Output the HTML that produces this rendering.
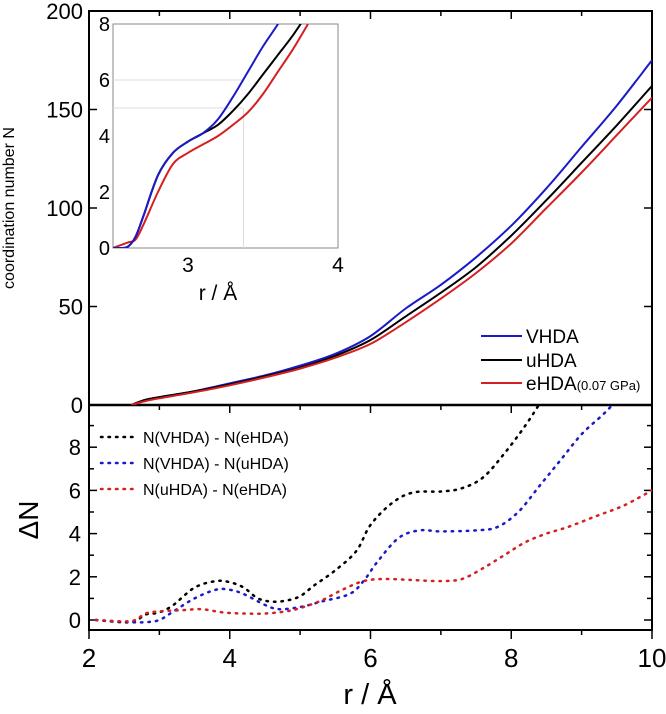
<!DOCTYPE html>
<html><head><meta charset="utf-8"><style>
body{margin:0;background:#fff}
svg{display:block;font-family:"Liberation Sans",sans-serif}
</style></head><body>
<svg id="c" width="666" height="714" xmlns="http://www.w3.org/2000/svg"></svg>
<script>
const rMain=[2.6,2.8,3.0,3.5,4.0,4.5,5.0,5.5,6.0,6.5,7.0,7.5,8.0,8.5,9.0,9.5,10];
const nVHDA=[0,2.6,4,7,11,15,20,26,35,49,61,75,91,110,131,152,175];
const nUHDA=[0,2.6,4,7,10.5,14.5,19,25,33,45,57,70,86,104,123,142,162];
const nEHDA=[0,2,3.4,6.5,10,14,18.5,24,31,42,54,67,82,100,118,137,156];
const rIn=[2.5,2.55,2.6,2.65,2.7,2.8,2.9,3.0,3.1,3.2,3.3,3.4,3.5,3.6,3.7,3.8];
const inV=[0,0,0.05,0.4,1.1,2.6,3.4,3.8,4.1,4.6,5.4,6.3,7.2,8.0,8.9,9.8];
const inU=[0,0,0.05,0.4,1.1,2.6,3.4,3.8,4.1,4.4,4.9,5.5,6.2,6.9,7.6,8.4];
const inE=[0,0.1,0.2,0.3,0.8,2.0,3.0,3.4,3.7,4.0,4.4,4.85,5.5,6.3,7.1,8.0];
const rVE=[2.1,2.6,2.8,3.0,3.2,3.5,3.8,4.0,4.2,4.4,4.6,4.8,5.0,5.2,5.5,5.8,6.0,6.3,6.6,7.0,7.3,7.6,7.9,8.2,8.4];
const dVE=[0,-0.1,0.25,0.35,0.7,1.5,1.8,1.75,1.5,1.0,0.85,0.9,1.1,1.6,2.3,3.2,4.4,5.4,5.9,5.95,6.1,6.6,7.7,9.0,10];
const rVU=[2.1,2.6,2.8,3.0,3.2,3.5,3.8,4.0,4.2,4.5,4.7,5.0,5.3,5.7,5.9,6.1,6.4,6.7,7.0,7.5,7.8,8.1,8.4,8.7,9.0,9.3,9.45];
const dVU=[0,-0.1,-0.1,0,0.4,1.0,1.4,1.4,1.2,0.7,0.5,0.6,0.85,1.2,1.8,2.7,3.8,4.15,4.1,4.15,4.3,5.0,6.2,7.4,8.6,9.5,10];
const rUE=[2.1,2.6,2.8,3.0,3.3,3.6,3.9,4.2,4.5,4.8,5.0,5.3,5.6,5.9,6.2,6.6,7.0,7.3,7.6,7.9,8.2,8.5,8.8,9.2,9.6,10];
const dUE=[0,-0.05,0.3,0.4,0.45,0.5,0.35,0.3,0.3,0.4,0.55,0.9,1.4,1.8,1.9,1.85,1.8,1.9,2.4,3.0,3.6,4.0,4.3,4.8,5.3,6.0];
const xTicks=[2,4,6,8,10];
const yTopTicks=[0,50,100,150,200];
const yBotTicks=[0,2,4,6,8];
const inXTicks=[3,4];
const inYTicks=[0,2,4,6,8];

const L=89,R=652,T=11,M=405,B=630;
const X=r=>L+(r-2)/8*(R-L);
const YT=v=>M-v/200*(M-T);
const YB=v=>620-v*21.6;
const IL=113,IR=338,IT=24,IB=248;
const IX=r=>IL+(r-2.5)/1.5*(IR-IL);
const IY=v=>IB-v/8*(IB-IT);
const svg=document.getElementById('c');
const NS='http://www.w3.org/2000/svg';
function mk(tag,at,name,txt){const e=document.createElementNS(NS,tag);for(const k in at)e.setAttribute(k,at[k]);


if(txt!==undefined)e.textContent=txt;svg.appendChild(e);return e;}
function line(x1,y1,x2,y2,name,st,w){return mk('line',{x1,y1,x2,y2,stroke:st||'#000','stroke-width':w||1.5},name);}
function smooth(p){let d='M'+p[0][0].toFixed(1)+','+p[0][1].toFixed(1);
for(let i=0;i<p.length-1;i++){const p0=p[Math.max(i-1,0)],p1=p[i],p2=p[i+1],p3=p[Math.min(i+2,p.length-1)];
const c1=[p1[0]+(p2[0]-p0[0])/6,p1[1]+(p2[1]-p0[1])/6],c2=[p2[0]-(p3[0]-p1[0])/6,p2[1]-(p3[1]-p1[1])/6];
d+='C'+c1.map(v=>v.toFixed(1))+' '+c2.map(v=>v.toFixed(1))+' '+p2[0].toFixed(1)+','+p2[1].toFixed(1);}return d;}
function path(xs,ys,fx,fy,col,name,dash){const d=smooth(xs.map((x,i)=>[fx(x),fy(ys[i])]));
const a={d,fill:'none',stroke:col,'stroke-width':dash?2.5:2};if(dash){a['stroke-dasharray']='1.5 6';a['stroke-linecap']='round';}return mk('path',a,name);}

const defs=document.createElementNS(NS,'defs');
defs.innerHTML='<clipPath id="ct"><rect x="'+L+'" y="'+T+'" width="'+(R-L)+'" height="'+(M-T)+'"/></clipPath><clipPath id="cb"><rect x="'+L+'" y="'+M+'" width="'+(R-L)+'" height="'+(B-M)+'"/></clipPath><clipPath id="ci"><rect x="'+IL+'" y="'+IT+'" width="'+(IR-IL)+'" height="'+(IB-IT)+'"/></clipPath>';
svg.appendChild(defs);

mk('rect',{x:L,y:T,width:R-L,height:B-T,fill:'none',stroke:'#000','stroke-width':2},'plot-frame');
line(L,M,R,M,'panel-divider','#000',2.5);
xTicks.forEach(v=>{line(X(v),B,X(v),B+9,'x-tick');line(X(v),T,X(v),T+8,'top-tick');line(X(v),M,X(v),M+8,'mid-tick');
mk('text',{x:X(v),y:B+37,'font-size':26,'text-anchor':'middle'},'x-tick-label',v);});
[3,5,7,9].forEach(v=>{line(X(v),B,X(v),B+5,'x-minor-tick');line(X(v),T,X(v),T+5,'top-minor-tick');line(X(v),M,X(v),M+5,'mid-minor-tick');});
yTopTicks.forEach(v=>{line(L,YT(v),L+8,YT(v),'y-tick');line(R,YT(v),R-8,YT(v),'y-tick-right');
mk('text',{x:L-6,y:YT(v)+8,'font-size':22,'text-anchor':'end'},'y-tick-label',v);});
yBotTicks.forEach(v=>{line(L,YB(v),L+8,YB(v),'dn-tick');line(R,YB(v),R-8,YB(v),'dn-tick-right');
mk('text',{x:L-8,y:YB(v)+8,'font-size':22,'text-anchor':'end'},'dn-tick-label',v);});
[1,3,5,7,9].forEach(v=>{line(L,YB(v),L+5,YB(v),'dn-minor');line(R,YB(v),R-5,YB(v),'dn-minor-right');});
mk('text',{transform:'translate(14,208) rotate(-90)','font-size':16,'text-anchor':'middle'},'y-axis-title','coordination number N');
mk('text',{transform:'translate(38,520) rotate(-90)','font-size':28,'text-anchor':'middle'},'dn-axis-title','ΔN');
mk('text',{x:370,y:704,'font-size':29,'text-anchor':'middle'},'x-axis-title','r / Å');

[[nVHDA,'#1a1ac8','series-vhda'],[nUHDA,'#000','series-uhda'],[nEHDA,'#d42020','series-ehda']].forEach(s=>{const p=path(rMain,s[0],X,YT,s[1],s[2]);p.setAttribute('clip-path','url(#ct)');});
mk('rect',{x:IL,y:IT,width:IR-IL,height:IB-IT,fill:'#fff',stroke:'#888','stroke-width':1},'inset-frame');
line(IL,IY(6),IX(3.37),IY(6),'inset-grid','#ddd',1);
line(IL,IY(5),IX(3.37),IY(5),'inset-grid','#ddd',1);
line(IX(3.37),IY(5),IX(3.37),IB,'inset-grid','#ddd',1);
inXTicks.forEach(v=>mk('text',{x:IX(v),y:IB+24,'font-size':21,'text-anchor':'middle'},'inset-x-label',v));
inYTicks.forEach(v=>mk('text',{x:IL-3,y:IY(v)+7,'font-size':20,'text-anchor':'end'},'inset-y-label',v));
mk('text',{x:IX(3.2),y:IB+52,'font-size':21,'text-anchor':'middle'},'inset-x-title','r / Å');
[[inE,'#d42020','inset-ehda'],[inU,'#000','inset-uhda'],[inV,'#1a1ac8','inset-vhda']].forEach(s=>{const p=path(rIn,s[0],IX,IY,s[1],s[2]);p.setAttribute('clip-path','url(#ci)');});

[['VHDA','#1a1ac8',336],['uHDA','#000',360],['eHDA','#d42020',383]].forEach(l=>{line(481,l[2],522,l[2],'legend-line',l[1],2);
const t=mk('text',{x:526,y:l[2]+7,'font-size':19},'legend-entry',l[0]);
if(l[0]==='eHDA'){const ts=document.createElementNS(NS,'tspan');ts.setAttribute('font-size','13');ts.textContent='(0.07 GPa)';t.appendChild(ts);}});

[[rVE,dVE,'#000','diff-vhda-ehda'],[rVU,dVU,'#1a1ac8','diff-vhda-uhda'],[rUE,dUE,'#d42020','diff-uhda-ehda']].forEach(s=>{const p=path(s[0],s[1],X,YB,s[2],s[3],true);p.setAttribute('clip-path','url(#cb)');});
[['N(VHDA) - N(eHDA)','#000',437],['N(VHDA) - N(uHDA)','#1a1ac8',463],['N(uHDA) - N(eHDA)','#d42020',489]].forEach(l=>{
mk('path',{d:'M101,'+l[2]+'L138,'+l[2],stroke:l[1],'stroke-width':2.5,'stroke-dasharray':'1.5 6','stroke-linecap':'round',fill:'none'},'diff-legend-line');
mk('text',{x:143,y:l[2]+6,'font-size':16},'diff-legend-entry',l[0]);});
</script>
</body></html>
